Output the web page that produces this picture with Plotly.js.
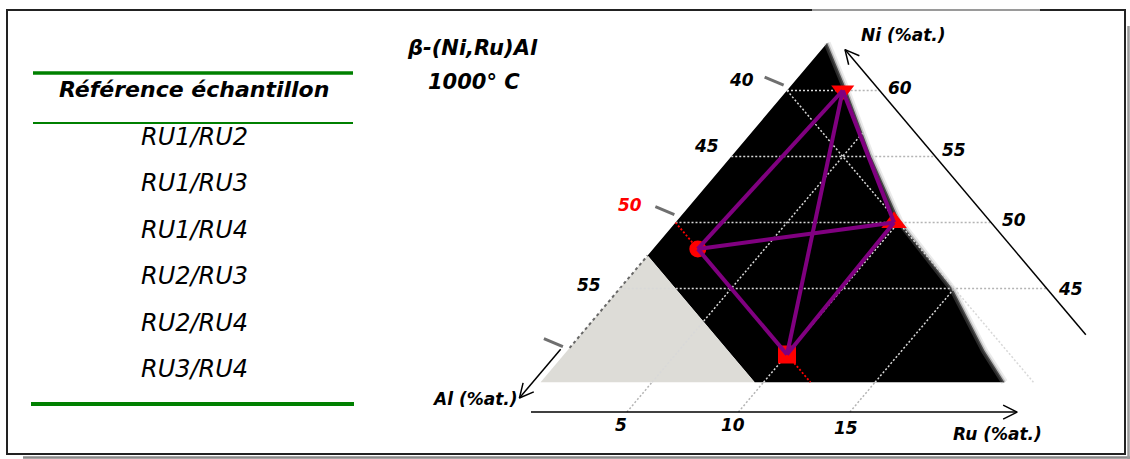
<!DOCTYPE html>
<html><head><meta charset="utf-8">
<script src="https://cdn.plot.ly/plotly-3.0.1.min.js"></script>
<style>html,body{margin:0;padding:0;background:#fff}#chart{width:1130px;height:459px}</style>
</head><body><div id="chart"></div>
<script>
// ---------------- data (compositions in at.%) ----------------
const samples   = ['RU1', 'RU2', 'RU3', 'RU4'];
const sampleNi  = [48, 40, 50, 60];
const sampleRu  = [2, 10, 9.8, 2.5];
const couples   = ['RU1/RU2', 'RU1/RU3', 'RU1/RU4', 'RU2/RU3', 'RU2/RU4', 'RU3/RU4'];

// beta-phase field boundary (Ni-rich / Ru-rich side)
const betaEdgeNi = [63.6, 59.9, 55.1, 50.1, 44.9, 40.3, 37.9];
const betaEdgeRu = [0, 2.75, 6.2, 10.0, 15.0, 18.7, 20.8];
const alRichLimitAl = 52.5;   // Al-rich limit of the beta field (grey field beyond)
const windowNiMin = 37.9;     // lower edge of the scanned section

const niTicks = [45, 50, 55, 60];
const alTicks = [40, 45, 50, 55];
const ruTicks = [5, 10, 15];
const alGrid  = [40, 45];
const alHighlight = 50;
const niAxisAl = 35.85;
const ruAxisNi = 35.64;
const ruAxisRu = [0.7, 22.5];
const niAxisNi = [41.5, 63.1];
const alAxisNi = [40.4, 36.7];
const alAxisRu = -0.35;
const edgeTickNi = [60.4, 50.6, 40.6];

const tableHeader = 'Référence échantillon';
const title1 = 'β-(Ni,Ru)Al';
const title2 = '1000° C';
const axisNames = {ni: 'Ni (%at.)', al: 'Al (%at.)', ru: 'Ru (%at.)'};

// ---------------- geometry ----------------
const W = 1130, H = 459;
const XR = [-118 / 22.3, (W - 118) / 22.3];
const YR = [60 - (H - 90.5) / 13.2, 60 + 90.5 / 13.2];
function X(ru, ni) { return ru + ni / 2; }
function toPx(xv, yv) { return [(xv - XR[0]) / (XR[1] - XR[0]) * W, (YR[1] - yv) / (YR[1] - YR[0]) * H]; }
function fromPx(p) { return [XR[0] + p[0] / W * (XR[1] - XR[0]), YR[1] - p[1] / H * (YR[1] - YR[0])]; }
function interp(xs, ys, v) {
  for (let i = 0; i < xs.length - 1; i++) {
    const a = xs[i], b = xs[i + 1];
    if ((v - a) * (v - b) <= 0) { const t = (v - a) / (b - a); return ys[i] + t * (ys[i + 1] - ys[i]); }
  }
  return null;
}
const ruAtNi = ni => interp(betaEdgeNi, betaEdgeRu, ni);
const niAtRu = ru => interp(betaEdgeRu, betaEdgeNi, ru);
function alMeetsEdge(al) {
  let lo = windowNiMin, hi = 100 - al;
  const f = ni => (100 - al - ni) - ruAtNi(ni);
  if (f(lo) < 0) {
    for (let k = 0; k < 60; k++) { const m = (lo + hi) / 2; if (f(m) < 0) lo = m; else hi = m; }
    return (lo + hi) / 2;
  }
  return windowNiMin;
}

const traces = [];
function seg(pts, color, width, dash) {
  traces.push({type: 'scatter', mode: 'lines', x: pts.map(p => X(p[0], p[1])), y: pts.map(p => p[1]),
    line: {color: color, width: width, dash: dash || 'solid'}, hoverinfo: 'skip', showlegend: false});
}

// beta field (black)
const blackPts = [];
for (let i = 0; i < betaEdgeNi.length; i++) blackPts.push([betaEdgeRu[i], betaEdgeNi[i]]);
blackPts.push([100 - alRichLimitAl - windowNiMin, windowNiMin]);
blackPts.push([0, 100 - alRichLimitAl]);
blackPts.push([0, betaEdgeNi[0]]);
traces.push({type: 'scatter', mode: 'lines', x: blackPts.map(p => X(p[0], p[1])), y: blackPts.map(p => p[1]),
  fill: 'toself', fillcolor: '#000000', line: {width: 0, color: '#000'}, hoverinfo: 'skip', showlegend: false});
// Al-rich field (grey)
const greyPts = [[0, 100 - alRichLimitAl], [100 - alRichLimitAl - windowNiMin, windowNiMin], [0, windowNiMin], [0, 100 - alRichLimitAl]];
traces.push({type: 'scatter', mode: 'lines', x: greyPts.map(p => X(p[0], p[1])), y: greyPts.map(p => p[1]),
  fill: 'toself', fillcolor: '#dddcd7', line: {width: 0, color: '#ddd'}, hoverinfo: 'skip', showlegend: false});
// blurred boundary of the scan
const edgePts = betaEdgeNi.map((n, i) => [betaEdgeRu[i], n]);
seg(edgePts, 'rgba(170,170,170,0.25)', 7);
seg(edgePts, 'rgba(120,120,120,0.4)', 3);
// dark edge line of the original diagram along the grey field
seg([[0, windowNiMin + 2.6], [0, 100 - alRichLimitAl]], 'rgba(70,70,70,0.8)', 2, '3px,3px');

// grid
const DOT = '2px,2px';
const gIn = '#d8d8d8', gOut = '#b4b4b4';
niTicks.forEach(ni => {
  const rb = ruAtNi(ni);
  seg([[0, ni], [rb, ni]], gIn, 1.5, DOT);
  seg([[rb, ni], [100 - ni - niAxisAl, ni]], gOut, 1.5, DOT);
});
ruTicks.forEach(ru => {
  seg([[ru, ruAxisNi], [ru, windowNiMin]], gOut, 1.5, DOT);
  seg([[ru, windowNiMin], [ru, niAtRu(ru)]], gIn, 1.5, DOT);
});
alGrid.forEach(al => {
  const nEnd = alMeetsEdge(al);
  seg([[0, 100 - al], [100 - al - nEnd, nEnd]], gIn, 1.5, DOT);
});
seg([[0, 100 - alHighlight], [100 - alHighlight - windowNiMin, windowNiMin]], '#ff0000', 1.8, DOT);

// left-edge tick marks of the scanned diagram
edgeTickNi.forEach(ni => {
  const p = toPx(X(alAxisRu, ni), ni);
  const q = fromPx([p[0] - 19, p[1] - 8]);
  const pp = fromPx(p);
  traces.push({type: 'scatter', mode: 'lines', x: [pp[0], q[0]], y: [pp[1], q[1]],
    line: {color: 'rgba(50,50,50,0.7)', width: 3}, hoverinfo: 'skip', showlegend: false});
});

// samples
const symbolOf = {RU1: 'circle', RU2: 'square', RU3: 'triangle-up', RU4: 'triangle-down'};
const sizeOf = {RU1: 17, RU2: 18, RU3: 22, RU4: 20};
samples.forEach((s, i) => {
  traces.push({type: 'scatter', mode: 'markers', name: s, x: [X(sampleRu[i], sampleNi[i])], y: [sampleNi[i]],
    marker: {symbol: symbolOf[s], size: sizeOf[s], color: '#ff0000', line: {width: 0}}, hoverinfo: 'name', showlegend: false});
});
// diffusion couples
couples.forEach(c => {
  const [a, b] = c.split('/').map(s => samples.indexOf(s));
  traces.push({type: 'scatter', mode: 'lines', name: c,
    x: [X(sampleRu[a], sampleNi[a]), X(sampleRu[b], sampleNi[b])], y: [sampleNi[a], sampleNi[b]],
    line: {color: '#800080', width: 4}, hoverinfo: 'name', showlegend: false});
});

// axes with arrows
function axis(fromRN, toRN) {
  seg([fromRN, toRN], '#000', 1.5);
  const t = toPx(X(toRN[0], toRN[1]), toRN[1]);
  const f = toPx(X(fromRN[0], fromRN[1]), fromRN[1]);
  let dx = t[0] - f[0], dy = t[1] - f[1];
  const L = Math.hypot(dx, dy); dx /= L; dy /= L;
  const len = 14, half = 7;
  const p1 = fromPx([t[0] - len * dx - half * dy, t[1] - len * dy + half * dx]);
  const p2 = fromPx([t[0] - len * dx + half * dy, t[1] - len * dy - half * dx]);
  const tt = fromPx(t);
  traces.push({type: 'scatter', mode: 'lines', x: [p1[0], tt[0], p2[0]], y: [p1[1], tt[1], p2[1]],
    line: {color: '#000', width: 1.5}, hoverinfo: 'skip', showlegend: false});
}
axis([100 - niAxisAl - niAxisNi[0], niAxisNi[0]], [100 - niAxisAl - niAxisNi[1], niAxisNi[1]]);
axis([ruAxisRu[0], ruAxisNi], [ruAxisRu[1], ruAxisNi]);
axis([alAxisRu, alAxisNi[0]], [alAxisRu, alAxisNi[1]]);

// ---------------- text & decoration (paper px) ----------------
const px = v => v / W, py = v => 1 - v / H;
const FONT = 'DejaVu Sans, Verdana, sans-serif';
function ann(text, x, y, size, opt) {
  opt = opt || {};
  return {text: text, xref: 'paper', yref: 'paper', x: px(x), y: py(y), xanchor: 'center', yanchor: 'middle',
    showarrow: false, font: {family: FONT, size: size, color: opt.color || '#000', weight: opt.weight || 'bold', style: 'italic'}};
}
const annotations = [];
annotations.push(ann(tableHeader, 194, 90, 22));
couples.forEach((c, i) => annotations.push(ann(c, 194, 137 + i * 46.4, 24, {weight: 'normal'})));
annotations.push(ann(title1, 473, 48, 21));
annotations.push(ann(title2, 474, 82, 21));
const alLabelPos = [[741, 80], [706, 146], [630, 205], [589, 285]];
alTicks.forEach((t, i) => annotations.push(ann(String(t), alLabelPos[i][0], alLabelPos[i][1], 17, {color: t === alHighlight ? '#ff0000' : '#000'})));
const niLabelPos = [[1070, 289], [1014, 220], [954, 150], [900, 88]];
niTicks.forEach((t, i) => annotations.push(ann(String(t), niLabelPos[i][0], niLabelPos[i][1], 17)));
const ruLabelPos = [[621, 425], [733, 425], [846, 428]];
ruTicks.forEach((t, i) => annotations.push(ann(String(t), ruLabelPos[i][0], ruLabelPos[i][1], 17)));
annotations.push(ann(axisNames.ni, 903, 35, 17));
annotations.push(ann(axisNames.al, 475, 399, 17));
annotations.push(ann(axisNames.ru, 997, 434, 17));

function line(x0, y0, x1, y1, color, width) {
  return {type: 'line', xref: 'paper', yref: 'paper', x0: px(x0), y0: py(y0), x1: px(x1), y1: py(y1), line: {color: color, width: width}};
}
const shapes = [
  line(23, 457.5, 1130, 457.5, '#8a8a8a', 2.5),
  line(1128.5, 26, 1128.5, 459, '#9a9a9a', 2.5),
  {type: 'rect', xref: 'paper', yref: 'paper', x0: px(7), y0: py(10), x1: px(1125), y1: py(454), line: {color: '#222', width: 2}},
  line(812, 10, 1040, 10, '#9a9a9a', 2),
  line(33, 73, 353, 73, '#008000', 3.5),
  line(33, 123, 353, 123, '#008000', 2),
  line(31, 404, 354, 404, '#008000', 4)
];

Plotly.newPlot('chart', traces, {
  width: W, height: H, margin: {l: 0, r: 0, t: 0, b: 0},
  paper_bgcolor: '#ffffff', plot_bgcolor: '#ffffff', showlegend: false,
  xaxis: {range: XR, visible: false, fixedrange: true},
  yaxis: {range: YR, visible: false, fixedrange: true},
  annotations: annotations, shapes: shapes
}, {displayModeBar: false, staticPlot: true});
</script></body></html>
